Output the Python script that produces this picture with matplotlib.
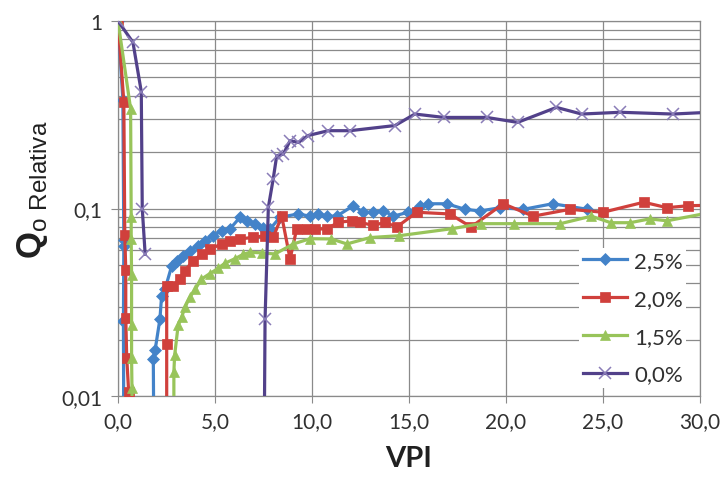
import numpy as np
import matplotlib
matplotlib.use("Agg")
import matplotlib.pyplot as plt

plt.rcParams['font.family'] = ['Lato', 'DejaVu Sans']
plt.rcParams['mathtext.fontset'] = 'custom'
plt.rcParams['mathtext.rm'] = 'Liberation Sans'
plt.rcParams['mathtext.bf'] = 'Liberation Sans:bold'

nan = np.nan

# Relative oil flow vs injected pore volumes, per polymer concentration
labels = ["2,5%", "2,0%", "1,5%", "0,0%"]

x_25 = [0, 0.25, 0.3, 0.3, 0.28, 0.3,
        1.85, 1.82, 1.91, 2.16, 2.25, 2.42, 2.77, 3.02, 3.37, 3.71, 4.14, 4.48,
        4.91, 5.34, 5.77, 6.29, 6.63, 7.06, 7.49, 7.84, 8.35, 9.29, 9.9, 10.32,
        10.76, 11.27, 12.13, 12.65, 13.16, 13.68, 14.19, 14.96, 15.57, 16.0,
        16.94, 17.89, 18.66, 19.7, 20.9, 22.4, 24.2]
y_25 = [1, 0.38, 0.068, 0.063, 0.025, 0.005,
        0.005, 0.0157, 0.0175, 0.0257, 0.0343, 0.037, 0.0495, 0.0527, 0.056,
        0.0596, 0.0633, 0.0673, 0.0716, 0.076, 0.0778, 0.0898, 0.086, 0.0826,
        0.079, 0.0778, 0.0898, 0.0935, 0.091, 0.0935, 0.091, 0.091, 0.1035,
        0.0955, 0.0955, 0.0975, 0.091, 0.0955, 0.1035, 0.106, 0.106, 0.099,
        0.097, 0.101, 0.099, 0.106, 0.099]

x_20 = [0, 0.3, 0.35, 0.4, 0.4, 0.45, 0.55, 0.6,
        2.51, 2.51, 2.51, 2.85, 3.2, 3.45, 3.88, 4.31, 4.74, 5.35, 5.77, 6.29,
        6.97, 7.58, 8.0, 8.44, 8.87, 9.21, 9.73, 10.15, 10.76, 11.36, 12.05,
        12.47, 13.16, 13.76, 14.37, 15.4, 17.1, 18.2, 19.86, 21.4, 23.3, 25.0,
        27.1, 28.3, 29.4, 30.5]
y_20 = [1, 0.37, 0.072, 0.047, 0.026, 0.016, 0.0105, 0.005,
        0.005, 0.0189, 0.0388, 0.0388, 0.042, 0.0466, 0.0527, 0.0572, 0.0608,
        0.0647, 0.0673, 0.0688, 0.0702, 0.0716, 0.0702, 0.091, 0.0538, 0.0778,
        0.0778, 0.0778, 0.0778, 0.0844, 0.086, 0.0844, 0.0812, 0.0844, 0.0797,
        0.0955, 0.0935, 0.0797, 0.106, 0.091, 0.099, 0.0955, 0.108, 0.101,
        0.1035, 0.104]

x_15 = [0, 0.65, 0.68, 0.68, 0.7, 0.7, 0.7, 0.72, 0.75,
        2.88, 2.88, 2.92, 3.1, 3.28, 3.45, 3.7, 3.97, 4.3, 4.74, 5.17, 5.5,
        6.03, 6.46, 6.8, 7.4, 8.09, 9.04, 9.9, 11.0, 11.8, 13.0, 14.5, 17.2,
        18.7, 20.4, 22.8, 24.4, 25.4, 26.4, 27.4, 28.3, 30.5]
y_15 = [1, 0.34, 0.09, 0.069, 0.044, 0.024, 0.016, 0.011, 0.005,
        0.005, 0.0135, 0.0165, 0.0238, 0.0263, 0.0297, 0.0336, 0.037, 0.042,
        0.045, 0.048, 0.051, 0.054, 0.057, 0.0584, 0.058, 0.0572, 0.0647,
        0.069, 0.0688, 0.0647, 0.07, 0.0716, 0.078, 0.083, 0.083, 0.083,
        0.091, 0.084, 0.084, 0.088, 0.086, 0.095]

x_00 = [0, 0.77, 1.2, 1.25, 1.4, nan,
        7.52, 7.58, 7.75, 8.0, 8.18, 8.52, 8.87, 9.3, 9.8, 10.84, 11.96, 14.28,
        15.3, 16.8, 19.0, 20.6, 22.6, 23.9, 25.9, 28.6, 30.5]
y_00 = [1, 0.77, 0.42, 0.1, 0.057, nan,
        0.003, 0.0257, 0.1015, 0.1437, 0.191, 0.195, 0.23, 0.225, 0.245, 0.26,
        0.26, 0.277, 0.319, 0.306, 0.306, 0.288, 0.346, 0.319, 0.326, 0.319,
        0.326]

x_ticks = [0, 5, 10, 15, 20, 25, 30]
x_ticklabels = ["0,0", "5,0", "10,0", "15,0", "20,0", "25,0", "30,0"]
y_ticks = [0.01, 0.1, 1]
y_ticklabels = ["0,01", "0,1", "1"]

colors = ["#4383C9", "#D0403C", "#98C45A", "#52418A"]
edge_colors = ["#4383C9", "#D0403C", "#98C45A", "#8A7DB8"]
markers = ["D", "s", "^", "x"]
msizes = [6.0, 7.0, 7.0, 8.5]

fig = plt.figure(figsize=(7.23, 4.81), dpi=100)
ax = fig.add_axes([118 / 723, 1 - 397 / 481, 582 / 723, 375 / 481])

series = [(x_25, y_25), (x_20, y_20), (x_15, y_15), (x_00, y_00)]
for i, (xs, ys) in enumerate(series):
    ax.plot(xs, ys, color=colors[i], lw=2.3, marker=markers[i],
            markersize=msizes[i],
            markeredgewidth=1.1 if markers[i] == "x" else 0.5,
            markeredgecolor=edge_colors[i], markerfacecolor=colors[i],
            label=labels[i], zorder=3 + i)

ax.set_yscale("log")
ax.set_xlim(0, 30)
ax.set_ylim(0.01, 1)
ax.set_xticks(x_ticks)
ax.set_xticklabels(x_ticklabels)
ax.set_yticks(y_ticks)
ax.set_yticklabels(y_ticklabels)
ax.yaxis.set_minor_locator(matplotlib.ticker.LogLocator(base=10, subs=np.arange(2, 10)))
ax.yaxis.set_minor_formatter(matplotlib.ticker.NullFormatter())

ax.grid(True, which="major", color="#8A8A8A", lw=0.9)
ax.grid(True, which="minor", axis="y", color="#8A8A8A", lw=0.9)
ax.set_axisbelow(True)
ax.tick_params(axis="both", which="major", direction="out", length=5,
               color="#8A8A8A", labelsize=15, labelcolor="#303030", pad=6)
ax.tick_params(axis="y", which="minor", length=0)
for side in ["left", "bottom", "top", "right"]:
    ax.spines[side].set_color("#8A8A8A")
    ax.spines[side].set_linewidth(0.9)

ax.set_xlabel("VPI", fontsize=21, fontweight="bold", color="#202020", labelpad=10)
fig.text(32 / 723, 1 - 190 / 481, r"$\mathbf{Q}_{\mathrm{o\ Relativa}}$",
         rotation=90, ha="center", va="center", fontsize=25, color="#202020")

leg = ax.legend(loc="lower right", bbox_to_anchor=(0.995, -0.008), fontsize=16,
                frameon=True, fancybox=False, handlelength=2.0, handletextpad=0.3,
                labelspacing=0.8, borderpad=0.15)
leg.get_frame().set_facecolor("white")
leg.get_frame().set_edgecolor("none")
leg.get_frame().set_alpha(1.0)
leg.set_zorder(10)
for t in leg.get_texts():
    t.set_color("#303030")

fig.savefig("out.png", dpi=100)
